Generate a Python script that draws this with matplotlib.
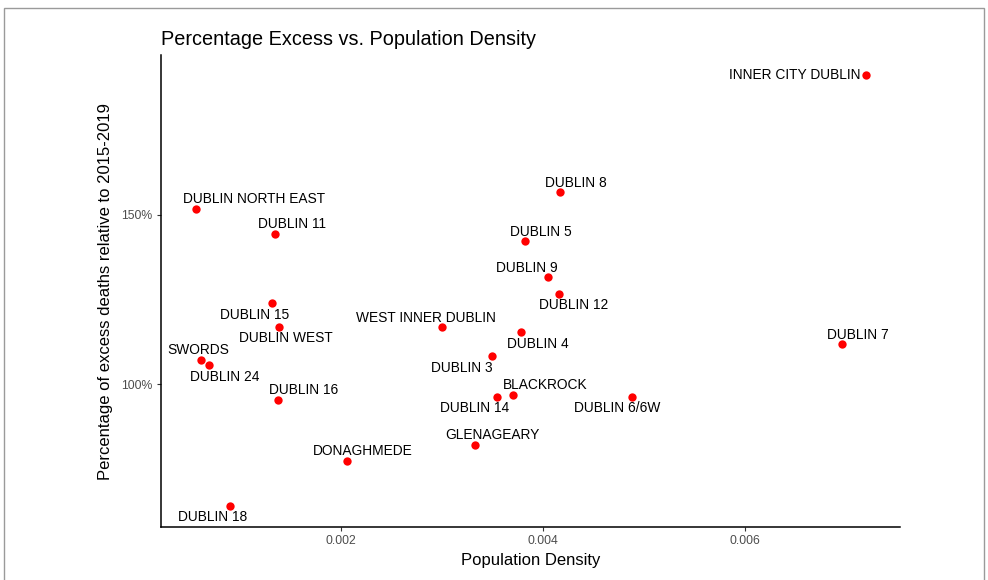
import numpy as np
import matplotlib.pyplot as plt
from matplotlib.patches import Rectangle
from matplotlib.ticker import FuncFormatter

plt.rcParams['font.family'] = ['Liberation Sans', 'DejaVu Sans']

# Datos: zona, densidad de poblacion, exceso de muertes (%)
areas = ['INNER CITY DUBLIN', 'DUBLIN 8', 'DUBLIN NORTH EAST', 'DUBLIN 11', 'DUBLIN 5',
         'DUBLIN 9', 'DUBLIN 12', 'DUBLIN 15', 'DUBLIN WEST', 'WEST INNER DUBLIN',
         'DUBLIN 4', 'DUBLIN 7', 'DUBLIN 3', 'SWORDS', 'DUBLIN 24', 'DUBLIN 14',
         'BLACKROCK', 'DUBLIN 6/6W', 'DUBLIN 16', 'GLENAGEARY', 'DONAGHMEDE', 'DUBLIN 18']
density = [0.007198, 0.004168, 0.000564, 0.001347, 0.003822,
           0.004050, 0.004158, 0.001317, 0.001386, 0.003000,
           0.003782, 0.006960, 0.003495, 0.000614, 0.000693, 0.003545,
           0.003703, 0.004881, 0.001376, 0.003327, 0.002059, 0.000901]
excess = [191.4, 156.8, 151.8, 144.4, 142.3,
          131.7, 126.6, 124.0, 116.9, 116.9,
          115.4, 111.8, 108.3, 107.1, 105.6, 96.2,
          96.7, 96.2, 95.3, 82.0, 77.2, 63.9]

# desplazamiento de etiquetas en pixeles (dx, dy hacia arriba)
offsets = [(-6, 0), (16, 9), (58, 10), (17, 10), (16, 9),
           (-21, 9), (15, -11), (-17, -12), (7, -11), (-16, 9),
           (17, -12), (16, 9), (-30, -12), (-3, 10), (16, -12), (-23, -11),
           (32, 10), (-15, -11), (26, 10), (17, 10), (16, 10), (-17, -11)]

fig = plt.figure(figsize=(9.88, 5.8), dpi=100, facecolor='white')
ax = fig.add_axes([0.163, 0.0914, 0.748, 0.8136])

ax.scatter(density, excess, s=36, color='#ff0000', zorder=3, linewidths=0)

for name, x, y, (dx, dy) in zip(areas, density, excess, offsets):
    ha = 'right' if name == 'INNER CITY DUBLIN' else 'center'
    ax.annotate(name, (x, y), xytext=(dx * 0.72, dy * 0.72), textcoords='offset points',
                ha=ha, va='center', fontsize=9.9, color='black')

ax.set_xlim(0.000218, 0.007535)
ax.set_ylim(57.7, 197.3)
ax.set_xticks([0.002, 0.004, 0.006])
ax.set_yticks([100, 150])
ax.yaxis.set_major_formatter(FuncFormatter(lambda v, p: f'{v:.0f}%'))
ax.xaxis.set_major_formatter(FuncFormatter(lambda v, p: f'{v:.3f}'))

for s in ['top', 'right']:
    ax.spines[s].set_visible(False)
for s in ['left', 'bottom']:
    ax.spines[s].set_linewidth(1.1)
    ax.spines[s].set_color('black')
ax.tick_params(length=3, color='#333333', labelcolor='#4d4d4d', labelsize=8.8, pad=3)

ax.set_xlabel('Population Density', fontsize=12, labelpad=4)
ax.set_ylabel('Percentage of excess deaths relative to 2015-2019', fontsize=12, labelpad=6)
ax.set_title('Percentage Excess vs. Population Density', fontsize=14.3, loc='left', pad=7)

# marco gris de la imagen
fig.patches.append(Rectangle((4 / 988, -0.01), 980 / 988, 1 - 8 / 580 + 0.01,
                             transform=fig.transFigure, fill=False,
                             edgecolor='#9a9a9a', linewidth=1))

fig.savefig('out.png', dpi=100, facecolor='white')
